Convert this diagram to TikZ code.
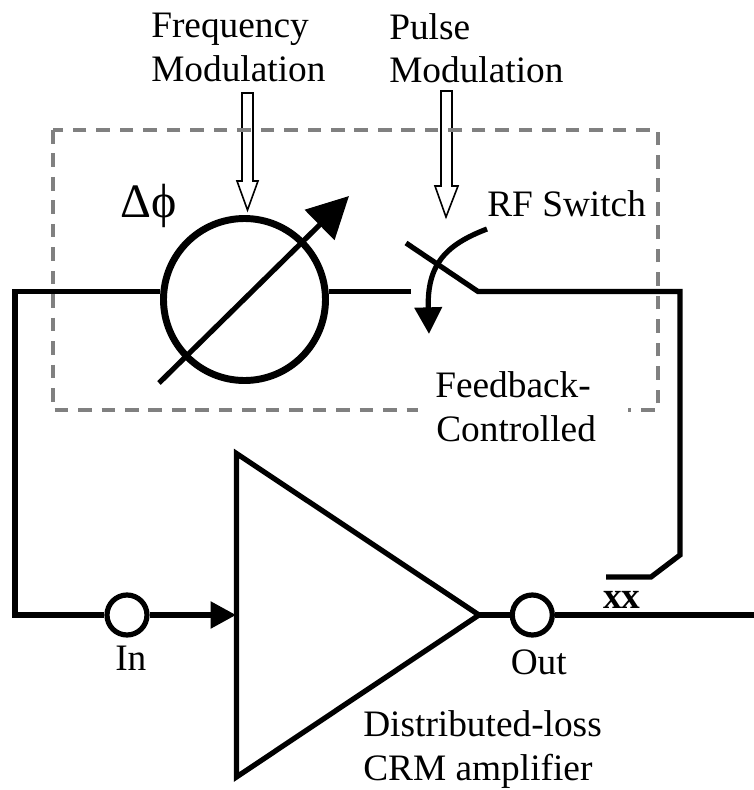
\documentclass[tikz,border=0pt]{standalone}
\usepackage{fontspec}
\setmainfont{Liberation Serif}
\usetikzlibrary{arrows.meta}
\tikzset{
  x=0.75pt,y=-0.75pt,
  lbl/.style={inner sep=0pt,anchor=base west,font=\fontsize{28}{33}\selectfont,align=left},
  wire/.style={line width=3.9pt,black,line join=miter},
  port/.style={circle,draw=black,line width=3.9pt,fill=white,minimum size=30pt,inner sep=0pt},
  phase/.style={circle,draw=black,line width=5.2pt,fill=white,minimum size=121.5pt,inner sep=0pt},
  openarrow/.style={draw=black,line width=1.2pt,fill=white,line join=miter},
  gbox/.style={draw=gray,line width=3pt,dash pattern=on 10.2pt off 7.4pt}
}
\begin{document}
\begin{tikzpicture}
\useasboundingbox (0,0) rectangle (754,790);
% open arrows
\draw[openarrow] (242,93) -- (253,93) -- (253,181) -- (258,181) -- (247.5,210) -- (237,181) -- (242,181) -- cycle;
\draw[openarrow] (441,91) -- (452,91) -- (452,186) -- (458,186) -- (446,217) -- (435,186) -- (441,186) -- cycle;
% dashed box
\draw[gbox] (53,130) rectangle (658,410);
% labels
\node[lbl] (freq) at (151,37) {Frequency};
\node[lbl] (freqb) at (151,81) {Modulation};
\node[lbl] (pulse) at (389,39) {Pulse};
\node[lbl] (pulseb) at (389,82) {Modulation};
\node[lbl,font=\fontsize{36}{40}\selectfont] (dphi) at (120,217) {Δϕ};
\node[lbl] (rfsw) at (487,216) {RF Switch};
\fill[white] (418,400) rectangle (628,420);
\node[lbl] (fb) at (435,397) {Feedback-};
\node[lbl] (fc) at (436,441) {Controlled};
\node[lbl] (in) at (115,670.5) {In};
\node[lbl] (outl) at (510.5,674) {Out};
\node[lbl,font=\fontsize{28}{33}\selectfont\bfseries] (xx) at (603,608) {xx};
\node[lbl] (dist) at (363,736) {Distributed-loss};
\node[lbl] (crm) at (363,780) {CRM amplifier};
% coordinates
\coordinate (a) at (15,291.5);
\coordinate (b) at (15,615);
\coordinate (tl) at (236.5,453.5);
\coordinate (bl) at (236.5,777);
\coordinate (tip) at (479,615);
\coordinate (inp) at (236,615);
\coordinate (end) at (754,615);
\coordinate (swA) at (411,291.5);
\coordinate (swB) at (406,243);
\coordinate (swC) at (478,291.5);
\coordinate (c) at (680,291.5);
\coordinate (d) at (680,555);
\coordinate (e) at (651,577);
\coordinate (f) at (606,577);
\coordinate (arrA) at (159,383);
\coordinate (arrB) at (349,196);
\coordinate (curveA) at (487,229);
\coordinate (curveB) at (429,334);
% nodes
\node[port] (pin) at (127,615) {};
\node[port] (pout) at (532.3,615) {};
\node[phase] (ph) at (244.5,299.5) {};
% wires
\draw[wire] (ph.174 |- a) -- (a) -- (b) -- (pin.west);
\draw[wire,-{Triangle[length=19pt,width=19.5pt]}] (pin.east) -- (inp);
\draw[wire] (ph.6 |- a) -- (swA);
\draw[wire] (swB) -- (swC) -- (c) -- (d) -- (e) -- (f);
\draw[wire] (tip) -- (pout.west);
\draw[wire] (pout.east) -- (end);
\draw[wire] (tl) -- (tip) -- (bl) -- cycle;
\draw[wire,-{Triangle[length=31pt,width=31pt]}] (arrA) -- (arrB);
\draw[wire,-{Triangle[length=20pt,width=20pt]}] (curveA) .. controls (445,245) and (427,265) .. (curveB);
\end{tikzpicture}
\end{document}
